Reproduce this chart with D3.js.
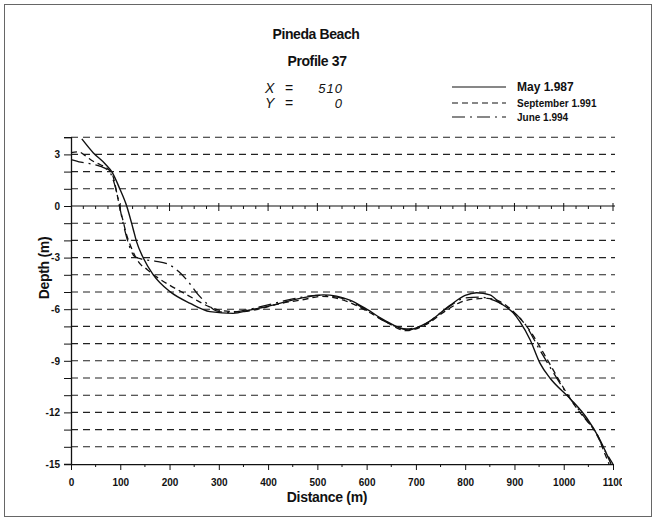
<!DOCTYPE html>
<html>
<head>
<meta charset="utf-8">
<script src="https://cdn.jsdelivr.net/npm/d3@7/dist/d3.min.js"></script>
<style>
  body { margin: 0; background: #fff; }
  text { font-family: "Liberation Sans", Arial, sans-serif; fill: #111; }
</style>
</head>
<body>
<svg id="chart" width="656" height="522"></svg>
<script>
// profile surveys, distance (m) and depth (m)
const mayDist = [22, 45, 69, 83, 99, 113, 126, 133, 147, 167, 201, 242, 282, 329, 363, 397, 465, 512, 566, 600, 634, 684, 722, 770, 800, 823, 850, 871, 897, 911, 932, 952, 972, 1013, 1047, 1070, 1090, 1096];
const mayDepth = [3.9, 3.1, 2.46, 1.98, 1.0, 0, -1.32, -2.07, -3.04, -4.0, -4.98, -5.66, -6.14, -6.24, -6.05, -5.85, -5.37, -5.17, -5.47, -6.0, -6.6, -7.2, -6.8, -5.76, -5.2, -5.04, -5.17, -5.64, -6.2, -6.72, -7.79, -9.15, -10.0, -11.2, -12.34, -13.4, -14.6, -15];

const sepDist = [0, 15, 30, 45, 60, 75, 85, 92, 99, 106, 112, 118, 125, 137, 155, 175, 200, 225, 250, 280, 310, 340, 380, 420, 470, 510, 560, 600, 640, 680, 720, 760, 790, 820, 845, 870, 900, 935, 960, 980, 1013, 1030, 1050, 1070, 1082, 1092];
const sepDepth = [3.1, 3.15, 2.9, 2.6, 2.4, 2.15, 1.75, 0.9, -0.1, -0.9, -1.6, -2.1, -2.6, -3.25, -3.7, -4.15, -4.6, -5.0, -5.4, -5.85, -6.1, -6.15, -6.0, -5.7, -5.45, -5.25, -5.55, -6.1, -6.75, -7.25, -6.9, -6.1, -5.6, -5.4, -5.37, -5.55, -6.2, -7.4, -8.6, -9.6, -11.2, -11.9, -12.6, -13.4, -14.3, -15.0];

const junDist = [0, 20, 40, 60, 78, 88, 95, 102, 110, 118, 128, 145, 170, 195, 218, 238, 255, 275, 295, 320, 363, 400, 450, 500, 530, 560, 600, 640, 680, 720, 760, 800, 830, 860, 890, 920, 950, 975, 1013, 1040, 1065, 1085, 1100];
const junDepth = [2.7, 2.55, 2.45, 2.3, 2.0, 1.3, 0.5, -0.5, -1.5, -2.3, -2.9, -3.1, -3.2, -3.35, -3.8, -4.4, -5.05, -5.65, -6.1, -6.2, -6.0, -5.75, -5.4, -5.2, -5.25, -5.45, -6.05, -6.75, -7.15, -6.85, -6.0, -5.35, -5.3, -5.5, -6.0, -6.8, -8.3, -9.5, -11.2, -12.2, -13.2, -14.3, -15];

const seriesNames = ["May 1.987", "September 1.991", "June 1.994"];
const xTicks = [0, 100, 200, 300, 400, 500, 600, 700, 800, 900, 1000, 1100];
const yTicks = [3, 0, -3, -6, -9, -12, -15];

const svg = d3.select("#chart");

// frame
svg.append("rect")
    .attr("x", 4.5).attr("y", 4.5)
    .attr("width", 647).attr("height", 512)
    .attr("fill", "none").attr("stroke", "#666").attr("stroke-width", 1);

const xScale = d3.scaleLinear().domain([0, 1100]).range([71, 613]);
const yScale = d3.scaleLinear().domain([-15, 4]).range([464, 137.2]);

// horizontal grid, dashed at every metre
const gridVals = d3.range(-14, 5).filter(d => d !== 0);
svg.append("g").selectAll("line")
    .data(gridVals)
    .join("line")
    .attr("x1", xScale(0)).attr("x2", xScale(1100) + 2)
    .attr("y1", d => yScale(d)).attr("y2", d => yScale(d))
    .attr("stroke", "#222").attr("stroke-width", 1.1)
    .attr("stroke-dasharray", "7,5");

// zero line with ticks
svg.append("line")
    .attr("x1", xScale(0)).attr("x2", xScale(1100) + 2)
    .attr("y1", yScale(0)).attr("y2", yScale(0))
    .attr("stroke", "#111").attr("stroke-width", 1.1);
svg.append("g").selectAll("line")
    .data(d3.range(25, 1101, 25))
    .join("line")
    .attr("x1", d => xScale(d)).attr("x2", d => xScale(d))
    .attr("y1", d => d % 100 === 0 ? yScale(0) - 3 : yScale(0))
    .attr("y2", d => d % 100 === 0 ? yScale(0) + 5 : yScale(0) + 3)
    .attr("stroke", "#111").attr("stroke-width", 1);

// y axis
const yAxis = d3.axisLeft(yScale)
    .tickValues(d3.range(-15, 5))
    .tickSize(7)
    .tickPadding(4)
    .tickFormat(d => yTicks.includes(d) ? d : "");
const gy = svg.append("g")
    .attr("transform", `translate(${xScale(0)},0)`)
    .call(yAxis);
gy.selectAll("text").attr("font-size", "10px").attr("font-weight", "bold");
gy.selectAll("line").attr("stroke", "#111");
gy.select(".domain").attr("stroke", "#111").attr("stroke-width", 1.3);

// x axis
svg.append("defs").append("clipPath").attr("id", "xclip")
    .append("rect").attr("x", 0).attr("y", 0).attr("width", 622).attr("height", 522);
const xAxis = d3.axisBottom(xScale)
    .tickValues(xTicks)
    .tickSize(6)
    .tickPadding(9)
    .tickSizeOuter(0)
    .tickFormat(d => d);
const gx = svg.append("g")
    .attr("transform", `translate(0,${yScale(-15)})`)
    .attr("clip-path", "url(#xclip)")
    .call(xAxis);
gx.selectAll("text").attr("font-size", "10px").attr("font-weight", "bold");
gx.selectAll("line").attr("stroke", "#111");
gx.select(".domain").attr("stroke", "#111").attr("stroke-width", 1.3);
svg.append("g").selectAll("line")
    .data(d3.range(50, 1100, 100))
    .join("line")
    .attr("x1", d => xScale(d)).attr("x2", d => xScale(d))
    .attr("y1", yScale(-15)).attr("y2", yScale(-15) + 3)
    .attr("stroke", "#111");

// profiles
const series = [
    { dist: mayDist, depth: mayDepth, dash: null, width: 1.4 },
    { dist: sepDist, depth: sepDepth, dash: "6,4", width: 1.3 },
    { dist: junDist, depth: junDepth, dash: "13,5,2,5", width: 1.3 }
];
const line = d3.line()
    .x(d => xScale(d[0]))
    .y(d => yScale(d[1]))
    .curve(d3.curveMonotoneX);

series.forEach(s => {
    const pts = s.dist.map((d, i) => [d, s.depth[i]]);
    svg.append("path")
        .datum(pts)
        .attr("d", line)
        .attr("fill", "none")
        .attr("stroke", "#111")
        .attr("stroke-width", s.width)
        .attr("stroke-dasharray", s.dash);
});

// titles
svg.append("text").attr("x", 316).attr("y", 39)
    .attr("text-anchor", "middle").attr("font-size", "14px").attr("font-weight", "bold")
    .attr("letter-spacing", "-0.4px")
    .text("Pineda Beach");
svg.append("text").attr("x", 317).attr("y", 65.5)
    .attr("text-anchor", "middle").attr("font-size", "14px").attr("font-weight", "bold")
    .attr("letter-spacing", "-0.4px")
    .text("Profile 37");

// coordinates
const coords = [["X", "510", 92.5], ["Y", "0", 108]];
coords.forEach(([k, v, yy]) => {
    svg.append("text").attr("x", 265).attr("y", yy)
        .attr("font-family", "Liberation Serif, serif").attr("font-style", "italic")
        .attr("font-size", "14px").text(k);
    svg.append("text").attr("x", 285).attr("y", yy)
        .attr("font-family", "Liberation Serif, serif").attr("font-size", "14px").text("=");
    svg.append("text").attr("x", 343).attr("y", yy)
        .attr("text-anchor", "end").attr("font-style", "italic")
        .attr("font-size", "13px").attr("letter-spacing", "1px").text(v);
});

// legend
const legendY = [87, 103, 117];
const legendSize = ["12px", "10px", "10px"];
series.forEach((s, i) => {
    svg.append("line")
        .attr("x1", 452).attr("x2", 506)
        .attr("y1", legendY[i]).attr("y2", legendY[i])
        .attr("stroke", "#111").attr("stroke-width", 1.2)
        .attr("stroke-dasharray", s.dash);
    svg.append("text")
        .attr("x", 517).attr("y", legendY[i] + 4)
        .attr("font-size", legendSize[i]).attr("font-weight", "bold")
        .text(seriesNames[i]);
});

// axis titles
svg.append("text").attr("x", 327).attr("y", 502)
    .attr("text-anchor", "middle").attr("font-size", "14px").attr("font-weight", "bold")
    .attr("letter-spacing", "-0.3px")
    .text("Distance (m)");
svg.append("text")
    .attr("transform", "translate(49,268) rotate(-90)")
    .attr("text-anchor", "middle").attr("font-size", "14px").attr("font-weight", "bold")
    .attr("letter-spacing", "-0.3px")
    .text("Depth (m)");
</script>
</body>
</html>
